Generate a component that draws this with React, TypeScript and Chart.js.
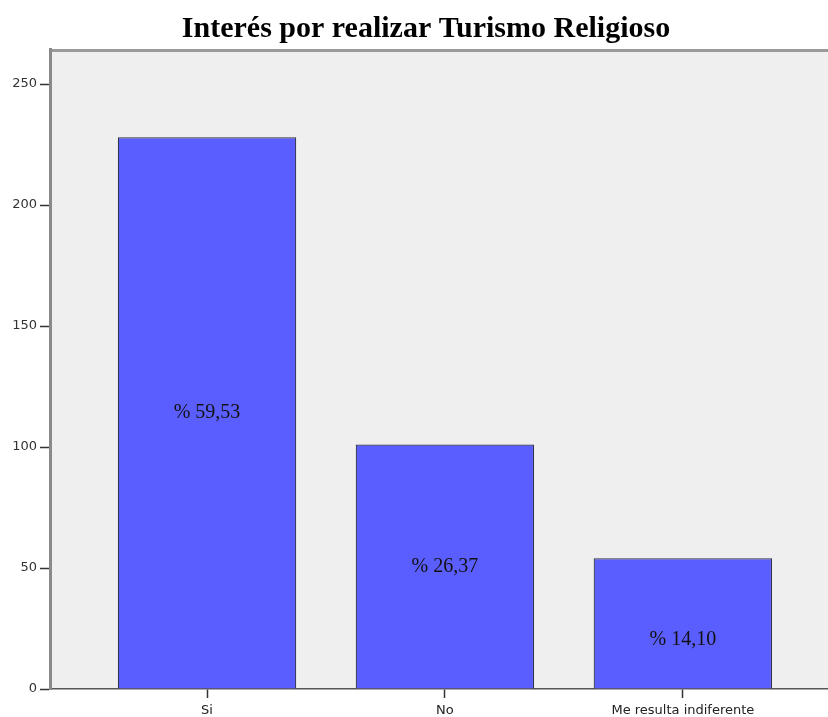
import React, { useEffect, useRef } from 'react';
import { Chart, registerables } from 'chart.js';

Chart.register(...registerables);

const TITLE = 'Interés por realizar Turismo Religioso';
const categories = ['Si', 'No', 'Me resulta indiferente'];
const counts = [228, 101, 54];
const percentLabels = ['% 59,53', '% 26,37', '% 14,10'];
const yTicks = [0, 50, 100, 150, 200, 250];

export default function App() {
  const ref = useRef<HTMLCanvasElement>(null);

  useEffect(() => {
    document.body.style.margin = '0';
    const canvas = ref.current;
    if (!canvas) return;

    const bgPlugin = {
      id: 'plotBg',
      beforeDraw(chart: any) {
        const { ctx, chartArea: a } = chart;
        ctx.save();
        ctx.fillStyle = '#efefef';
        ctx.fillRect(a.left, a.top, a.right - a.left, a.bottom - a.top);
        ctx.fillStyle = '#9a9a9a';
        ctx.fillRect(a.left, a.top, a.right - a.left, 3);
        ctx.restore();
      },
    };

    const titlePlugin = {
      id: 'customTitle',
      afterDraw(chart: any) {
        const { ctx } = chart;
        ctx.save();
        ctx.font = 'bold 30px "Liberation Serif", "Times New Roman", serif';
        ctx.fillStyle = '#000';
        ctx.textAlign = 'center';
        ctx.textBaseline = 'middle';
        ctx.fillText(TITLE, chart.width / 2 + 12, 29);
        ctx.restore();
      },
    };

    const pctPlugin = {
      id: 'pctLabels',
      afterDatasetsDraw(chart: any) {
        const { ctx } = chart;
        const meta = chart.getDatasetMeta(0);
        ctx.save();
        ctx.font = '20px "Liberation Serif", "Times New Roman", serif';
        ctx.fillStyle = '#111';
        ctx.textAlign = 'center';
        ctx.textBaseline = 'middle';
        meta.data.forEach((el: any, i: number) => {
          const mid = (el.y + el.base) / 2;
          const y = Math.max(mid, el.y + 81);
          ctx.fillText(percentLabels[i], el.x, y);
        });
        ctx.restore();
      },
    };

    const chart = new Chart(canvas, {
      type: 'bar',
      data: {
        datasets: [
          {
            data: counts.map((v, i) => ({ x: i, y: v })),
            backgroundColor: 'rgb(91, 94, 255)',
            borderColor: '#33334a',
            borderWidth: 1.2,
            barPercentage: 0.75,
            categoryPercentage: 1,
          },
        ],
      },
      options: {
        responsive: false,
        animation: false,
        devicePixelRatio: 1,
        layout: { padding: { top: 49, left: 0, right: 0, bottom: 0 } },
        plugins: {
          legend: { display: false },
          title: { display: false },
          tooltip: { enabled: false },
        },
        scales: {
          x: {
            type: 'linear',
            offset: false,
            bounds: 'data',
            min: -0.66,
            max: 2.61,
            afterBuildTicks(scale: any) {
              scale.ticks = categories.map((_, i) => ({ value: i }));
            },
            afterFit(scale: any) {
              scale.height = 28;
            },
            ticks: {
              callback: (v: any) => categories[Math.round(Number(v))] ?? '',
              color: '#222',
              font: { family: '"DejaVu Sans", Verdana, sans-serif', size: 13 },
              padding: 5,
              maxRotation: 0,
              autoSkip: false,
            },
            grid: {
              offset: false,
              drawOnChartArea: false,
              drawTicks: true,
              tickLength: 9,
              tickColor: '#333',
              tickWidth: 1.5,
            },
            border: { display: true, color: '#555', width: 1.5 },
          },
          y: {
            type: 'linear',
            min: 0,
            max: 264.5,
            afterBuildTicks(scale: any) {
              scale.ticks = yTicks.map((v) => ({ value: v }));
            },
            afterFit(scale: any) {
              scale.width = 50;
            },
            ticks: {
              color: '#333',
              font: { family: '"DejaVu Sans", Verdana, sans-serif', size: 13 },
              padding: 3,
            },
            grid: {
              drawOnChartArea: false,
              drawTicks: true,
              tickLength: 10,
              tickColor: '#333',
              tickWidth: 1.5,
            },
            border: { display: true, color: '#8a8a8a', width: 3 },
          },
        },
      },
      plugins: [bgPlugin, titlePlugin, pctPlugin],
    });

    return () => chart.destroy();
  }, []);

  return (
    <div style={{ width: 828, height: 717 }}>
      <canvas ref={ref} width={828} height={717} style={{ display: 'block' }} />
    </div>
  );
}
